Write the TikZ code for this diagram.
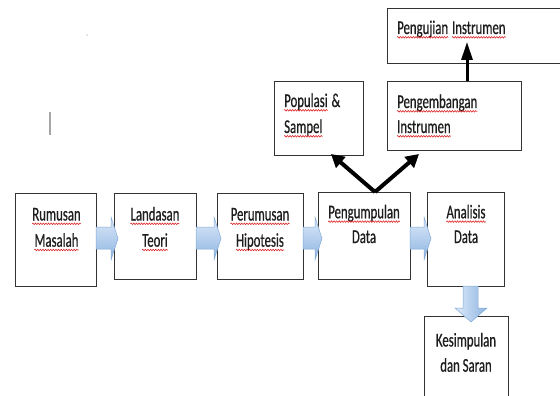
\documentclass[tikz,border=0pt]{standalone}
\usepackage{fontspec}
\setmainfont{Carlito}[FakeStretch=0.655,FakeBold=0.6]
\usetikzlibrary{arrows.meta,calc,decorations.pathmorphing}
\definecolor{spell}{RGB}{220,30,30}
\definecolor{txt}{RGB}{30,30,30}
\definecolor{bluetop}{RGB}{222,234,249}
\definecolor{bluebot}{RGB}{140,180,225}
\definecolor{blueedge}{RGB}{130,170,215}
\newcommand\blockh[2]{%
  \path[barrow] let \p1=(#1.east), \p2=(#2.west) in
    (\x1,-227pt) -- (\x2-3pt,-227pt) -- (\x2-3pt,-217pt) -- (\x2+4pt,-238.5pt)
    -- (\x2-3pt,-260pt) -- (\x2-3pt,-249pt) -- (\x1,-249pt) -- cycle;}
\newcommand\wv[1]{%
  \draw[wavy] ([yshift=-3.3pt]#1.base west) -- ([yshift=-3.3pt]#1.base east);}
\begin{document}
\begin{tikzpicture}[x=1pt,y=-1pt,
  box/.style={draw=black!80, line width=0.9pt, fill=white, inner sep=0pt, outer sep=0pt},
  lbl/.style={inner sep=0pt, anchor=base, text=txt, font=\fontsize{19.5}{27}\selectfont},
  lbll/.style={lbl, anchor=base west},
  wavy/.style={draw=spell, line width=0.55pt, decorate,
    decoration={snake, segment length=2.6pt, amplitude=0.8pt}},
  barrow/.style={draw=blueedge, line width=0.5pt, top color=bluetop, bottom color=bluebot},
  barrowv/.style={draw=blueedge, line width=0.5pt, left color=bluetop, right color=bluebot},
  blk/.style={draw=black, line width=4pt, -{Triangle[length=13pt,width=14pt]}},
  blkup/.style={draw=black, line width=3pt, -{Triangle[length=18pt,width=11pt]}}]
\useasboundingbox (0,0) rectangle (560,396);
\clip (0,0) rectangle (560,396);
\fill[white] (0,0) rectangle (560,396);

% boxes
\node[box, minimum width=81pt, minimum height=93pt] (rm) at (55.5,239.5) {};
\node[box, minimum width=82pt, minimum height=86pt] (lt) at (155,236) {};
\node[box, minimum width=86pt, minimum height=86pt] (ph) at (260,236) {};
\node[box, minimum width=92pt, minimum height=87pt] (pd) at (364,235.5) {};
\node[box, minimum width=77pt, minimum height=94pt] (ad) at (465.5,239) {};
\node[box, minimum width=84pt, minimum height=104pt] (ks) at (466,368) {};
\node[box, minimum width=89pt, minimum height=74pt] (ps) at (318.5,118) {};
\node[box, minimum width=134pt, minimum height=69pt] (pi) at (454,115.5) {};
\node[box, minimum width=213pt, minimum height=55pt] (pu) at (493.5,35.5) {};

% texts
\node[lbl] (t1) at (56.5,220.5) {Rumusan};
\node[lbl] (t2) at (56.5,246.7) {Masalah};
\node[lbl] (t3) at (155,220.5) {Landasan};
\node[lbl] (t4) at (155,246.7) {Teori};
\node[lbl] (t5) at (260,220.5) {Perumusan};
\node[lbl] (t6) at (260,246.7) {Hipotesis};
\node[lbl] (t7) at (364,218.3) {Pengumpulan};
\node[lbl] (t8) at (364,243) {Data};
\node[lbl] (t9) at (466,218.3) {Analisis};
\node[lbl] (t10) at (466,243) {Data};
\node[lbl] (t11) at (466,346.5) {Kesimpulan};
\node[lbl] (t12) at (466,371.7) {dan Saran};
\node[lbll] (t13) at (284,107) {Populasi};
\node[lbll, xshift=3.5pt] (t13b) at (t13.base east) {\&};
\node[lbll] (t14) at (284,133) {Sampel};
\node[lbll] (t15) at (397,108) {Pengembangan};
\node[lbll] (t16) at (397,133) {Instrumen};
\node[lbll] (t17) at (397,34) {Pengujian};
\node[lbll, xshift=3.5pt] (t18) at (t17.base east) {Instrumen};

% spell-check underlines
\wv{t1}\wv{t2}\wv{t3}\wv{t4}\wv{t5}\wv{t6}\wv{t7}\wv{t9}
\wv{t13}\wv{t14}\wv{t15}\wv{t16}\wv{t17}\wv{t18}

% blue block arrows
\blockh{rm}{lt}
\blockh{lt}{ph}
\blockh{ph}{pd}
\blockh{pd}{ad}
\path[barrowv] let \p1=(ad.south), \p2=(ks.north) in
  (463pt,\y1) -- (463pt,\y2+8pt) -- (455pt,\y2+8pt) -- (471pt,\y2-6pt)
  -- (487pt,\y2+8pt) -- (478pt,\y2+8pt) -- (478pt,\y1) -- cycle;

% black arrows
\coordinate (v) at ($(pd.north)+(11,0)$);
\draw[blk] (v) -- ($(ps.south east)+(-32,-1)$);
\draw[blk] (v) -- ($(pi.south west)+(32,4)$);
\draw[blkup] ($(pi.north)+(13,0)$) -- ($(pu.south)+(-26.5,-21)$);

% stray marks
\draw[gray!70, line width=1.3pt] (50,112) -- (50,135);
\fill[gray!40] (87,35) circle (0.9);
\end{tikzpicture}
\end{document}
